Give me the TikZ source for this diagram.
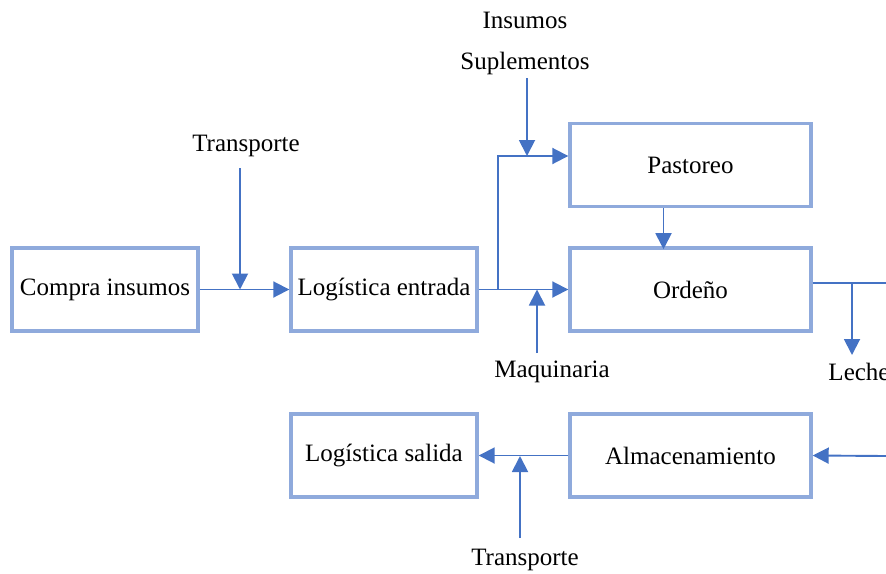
\documentclass[tikz,border=0pt]{standalone}
\usepackage{fontspec}
\setmainfont{Liberation Serif}
\usetikzlibrary{arrows.meta}
\definecolor{boxblue}{RGB}{143,170,220}
\definecolor{linkblue}{RGB}{68,114,196}
\begin{document}
\begin{tikzpicture}[x=1pt,y=-1pt,
  stagebox/.style={draw=boxblue,line width=3.4pt,fill=white,minimum height=83pt,inner sep=0pt,font=\fontsize{25}{30}\selectfont},
  lbl/.style={inner sep=1pt,font=\fontsize{25}{30}\selectfont},
  link/.style={draw=linkblue,line width=1.9pt},
  flow/.style={link,-{Triangle[length=16pt,width=16pt]}}]
\useasboundingbox (0,0) rectangle (886,573);
% process stages
\node[stagebox,minimum width=186pt] (compra) at (105,289.5) {Compra insumos};
\node[stagebox,minimum width=186pt] (entrada) at (384,289.5) {Logística entrada};
\node[stagebox,minimum width=241pt] (pastoreo) at (690.5,165) {Pastoreo};
\node[stagebox,minimum width=241pt] (ordeno) at (690.5,289.5) {Ordeño};
\node[stagebox,minimum width=186pt] (salida) at (384,455.5) {Logística salida};
\node[stagebox,minimum width=241pt] (almacen) at (690.5,455.5) {Almacenamiento};
% external inputs and outputs
\node[lbl] (insumos) at (525,20) {Insumos};
\node[lbl] (suple) at (525,63) {Suplementos};
\node[lbl] (transA) at (246,146) {Transporte};
\node[lbl] (maq) at (552,372) {Maquinaria};
\node[lbl] (leche) at (859,372) {Leche};
\node[lbl] (transB) at (525,560) {Transporte};
% junction points
\coordinate (jT) at (240,289.5);
\coordinate (jS) at (498,289.5);
\coordinate (jP) at (498,156);
\coordinate (jSup) at (527,156);
\coordinate (jM) at (537,289.5);
\coordinate (oR) at (886,283);
\coordinate (jL) at (852,283);
\coordinate (aR) at (886,456);
\coordinate (jB) at (520,456);
% main flow
\draw[flow] (compra.east) -- (entrada.west);
\draw[flow] (entrada.east) -- (ordeno.west);
\draw[flow] (jS) -- (jP) -- (jP -| pastoreo.west);
\draw[flow] (pastoreo.south) ++(-27,0) -- ++(0,41);
\draw[link] (ordeno.east |- oR) -- (oR);
\draw[flow] (aR) -- (almacen.east);
\draw[flow] (almacen.west) -- (salida.east);
% side arrows
\draw[flow] (240,168) -- (jT);
\draw[flow] (527,78) -- (jSup);
\draw[flow] (537,353) -- (jM);
\draw[flow] (jL) -- (852,355);
\draw[flow] (520,538) -- (jB);
\end{tikzpicture}
\end{document}
